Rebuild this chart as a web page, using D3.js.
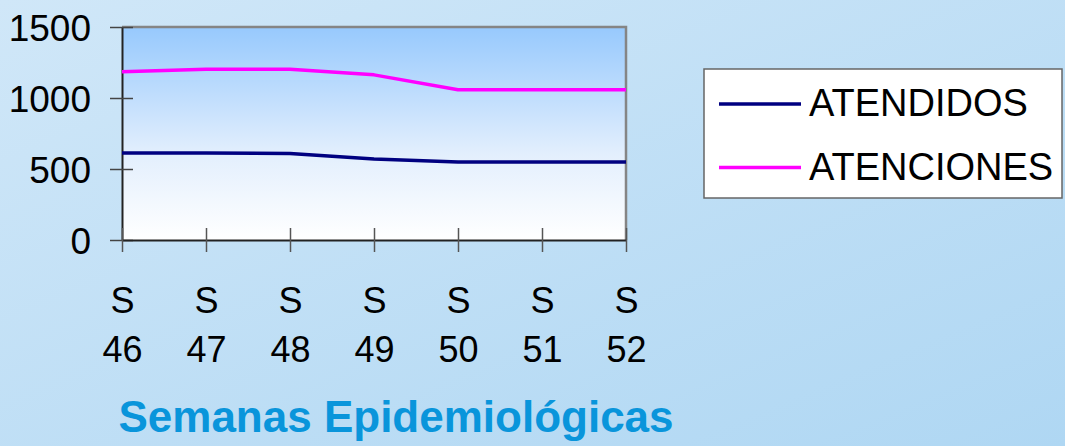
<!DOCTYPE html>
<html><head><meta charset="utf-8">
<script src="https://cdn.jsdelivr.net/npm/d3@7"></script>
<style>html,body{margin:0;padding:0;overflow:hidden;}svg{display:block;}</style>
</head><body>
<svg id="c" width="1065" height="446"></svg>
<script>
const weeks = ["S 46","S 47","S 48","S 49","S 50","S 51","S 52"];
const atendidos = [612, 612, 610, 570, 550, 550, 550];
const atenciones = [1185, 1203, 1203, 1163, 1058, 1058, 1058];
const seriesNames = ["ATENDIDOS","ATENCIONES"];
const seriesColors = ["#000080","#ff00ff"];
const yTicks = [0, 500, 1000, 1500];
const xTitle = "Semanas Epidemiológicas";

const svg = d3.select("#c");
const W = 1065, H = 446;
const font = "'Liberation Sans', Arial, sans-serif";
const defs = svg.append("defs");
const bg = defs.append("linearGradient").attr("id","bg").attr("x1","0").attr("y1","0").attr("x2","1").attr("y2","1");
bg.append("stop").attr("offset","0").attr("stop-color","#d0e7f8");
bg.append("stop").attr("offset","1").attr("stop-color","#afd7f3");
const pg = defs.append("linearGradient").attr("id","pg").attr("x1","0").attr("y1","0").attr("x2","0").attr("y2","1");
pg.append("stop").attr("offset","0").attr("stop-color","#97c9fd");
pg.append("stop").attr("offset","0.6").attr("stop-color","#e3effd");
pg.append("stop").attr("offset","1").attr("stop-color","#ffffff");

svg.append("rect").attr("width",W).attr("height",H).attr("fill","url(#bg)");

const L = 122, R = 626, T = 27, B = 240;
const x = d3.scalePoint().domain(weeks).range([L, R]).padding(0);
const y = d3.scaleLinear().domain([0,1500]).range([B, T]);

svg.append("rect").attr("x",L).attr("y",T).attr("width",R-L).attr("height",B-T).attr("fill","url(#pg)");
svg.append("path").attr("d",`M${L},${T}H${R}V${B}`).attr("fill","none").attr("stroke","#858585").attr("stroke-width",2.5);

// Y axis
const yAxis = d3.axisLeft(y).tickValues(yTicks).tickSize(0).tickPadding(0).tickFormat(d3.format("d"));
const gy = svg.append("g").attr("transform",`translate(${L},0)`).call(yAxis);
gy.select(".domain").attr("stroke","#222").attr("stroke-width",2);
gy.selectAll(".tick text").attr("x",-31).attr("dy","0.36em").attr("font-size",37).attr("font-family",font).attr("fill","#000");
gy.selectAll(".tick").append("line").attr("x1",-12).attr("x2",11).attr("stroke","#444").attr("stroke-width",1.5);

// X axis
const xAxis = d3.axisBottom(x).tickSize(0).tickFormat("");
const gx = svg.append("g").attr("transform",`translate(0,${B})`).call(xAxis);
gx.select(".domain").attr("stroke","#222").attr("stroke-width",2);
gx.selectAll(".tick").append("line").attr("y1",-12).attr("y2",12).attr("stroke","#555").attr("stroke-width",1.5);
gx.selectAll(".tick").each(function(d){
  const parts = d.split(" ");
  const t = d3.select(this).append("text").attr("text-anchor","middle").attr("font-size",36).attr("font-family",font).attr("fill","#000");
  t.append("tspan").attr("x",0).attr("y",73).text(parts[0]);
  t.append("tspan").attr("x",0).attr("y",122).text(parts[1]);
});

// lines
const line = d3.line().x((d,i)=>x(weeks[i])).y(d=>y(d));
[atendidos, atenciones].forEach((s,k)=>{
  svg.append("path").datum(s).attr("d",line).attr("fill","none").attr("stroke",seriesColors[k]).attr("stroke-width",3.5).attr("stroke-linejoin","round");
});

// legend
const lg = svg.append("g");
lg.append("rect").attr("x",704).attr("y",69).attr("width",358).attr("height",129).attr("fill","#fff").attr("stroke","#666").attr("stroke-width",1.5);
seriesNames.forEach((n,i)=>{
  const ly = 104 + i*63.5;
  lg.append("line").attr("x1",719).attr("x2",801).attr("y1",ly).attr("y2",ly).attr("stroke",seriesColors[i]).attr("stroke-width",3.5);
  lg.append("text").attr("x",809).attr("y",ly+12).attr("font-size",38).attr("font-family",font).attr("fill","#000").text(n);
});

// title
svg.append("text").attr("x",396).attr("y",432).attr("text-anchor","middle").attr("font-size",44).attr("font-weight","bold").attr("font-family",font).attr("fill","#0995db").text(xTitle);
</script>
</body></html>
